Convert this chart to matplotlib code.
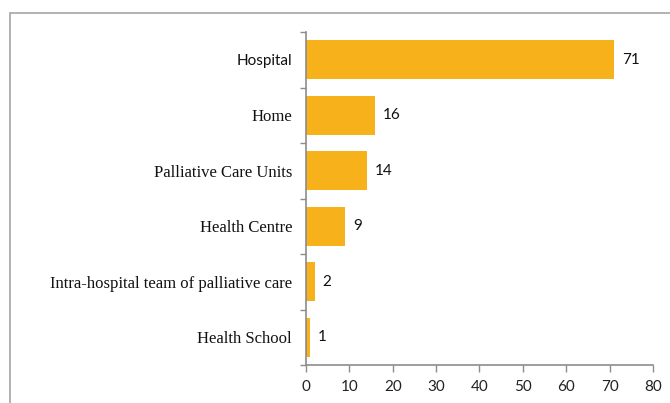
import matplotlib
matplotlib.use("Agg")
import matplotlib.pyplot as plt
from matplotlib.patches import Rectangle
import numpy as np

categories = ["Hospital", "Home", "Palliative Care Units", "Health Centre",
              "Intra-hospital team of palliative care", "Health School"]
values = [71, 16, 14, 9, 2, 1]
xticks = [0, 10, 20, 30, 40, 50, 60, 70, 80]

bar_color = "#F7B11A"
axis_color = "#8C8C8C"

fig = plt.figure(figsize=(6.70, 4.03), dpi=100)
fig.patch.set_facecolor("white")

# outer chart border
fig.add_artist(Rectangle((10/670, -0.1), 1.2, 1 - 13/403 + 0.1,
                         transform=fig.transFigure, fill=False,
                         edgecolor="#A6A6A6", linewidth=1.2, clip_on=False))

ax = fig.add_axes([306/670, 1 - 365/403, 347/670, 333/403])
n = len(categories)
y = np.arange(n)[::-1]
ax.barh(y, values, height=0.7, color=bar_color)
ax.set_xlim(0, 80)
ax.set_ylim(-0.5, n - 0.5)

ax.set_xticks(xticks)
ax.set_xticklabels([str(t) for t in xticks], fontsize=11, family="Lato", color="#222222")
ax.set_yticks(y)
ax.set_yticklabels(categories, fontsize=12, family="Liberation Serif", color="#111111")
# first category label is rendered in a sans font in the reference
lbls = ax.get_yticklabels()
lbls[0].set_family("Lato")
lbls[0].set_fontsize(11)
ax.tick_params(axis="y", length=0, pad=10)
ax.tick_params(axis="x", length=5, color=axis_color, width=1, pad=6)

# minor ticks at category boundaries on y-axis
ax.set_yticks(np.arange(-0.5, n, 1.0), minor=True)
ax.tick_params(axis="y", which="minor", length=4, color=axis_color, width=1)

for s in ["top", "right"]:
    ax.spines[s].set_visible(False)
for s in ["left", "bottom"]:
    ax.spines[s].set_color(axis_color)
    ax.spines[s].set_linewidth(1.2)

for yi, v in zip(y, values):
    ax.text(v + 1.8, yi, str(v), va="center", ha="left", fontsize=11,
            family="Lato", color="#111111")

fig.savefig("out.png", dpi=100)
